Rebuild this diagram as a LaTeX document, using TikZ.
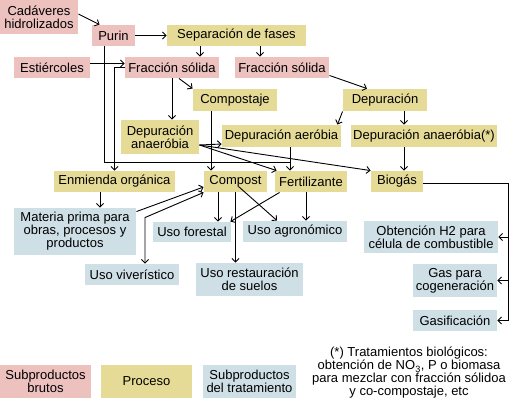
\documentclass[tikz,border=0pt]{standalone}
\usepackage{fontspec}
\setmainfont{Liberation Sans}
\usetikzlibrary{arrows.meta}
\definecolor{brutocol}{HTML}{ECC1BE}
\definecolor{procesocol}{HTML}{E5DB96}
\definecolor{subprodcol}{HTML}{CFDFE6}

\begin{document}
\begin{tikzpicture}[x=1pt, y=-1pt, font=\fontsize{13}{13}\selectfont, >={Straight Barb[length=3.5pt,width=7pt]}, line width=.9pt,
    sz/.style 2 args={minimum width=#1, minimum height=#2, inner sep=0pt, align=center},
    bruto/.style={fill=brutocol},
    proceso/.style={fill=procesocol},
    subprod/.style={fill=subprodcol}]
  \useasboundingbox (0,0) rectangle (510,400);
  % subproductos brutos
  \node[bruto,sz={78pt}{34pt}] (cad) at (39,17) {Cadáveres\\hidrolizados};
  \node[bruto,sz={43pt}{21pt}] (purin) at (113.5,35.5) {Purin};
  \node[bruto,sz={76pt}{21pt}] (estier) at (52,67.5) {Estiércoles};
  \node[bruto,sz={94pt}{21pt}] (frac1) at (172,67.5) {Fracción sólida};
  \node[bruto,sz={94pt}{21pt}] (frac2) at (282,67.5) {Fracción sólida};
  % procesos
  \node[proceso,sz={139pt}{21pt}] (sep) at (236.5,35.5) {Separación de fases};
  \node[proceso,sz={84pt}{22pt}] (compostaje) at (235,100) {Compostaje};
  \node[proceso,sz={84pt}{22pt}] (depur) at (385,100) {Depuración};
  \node[proceso,sz={78pt}{34pt}] (depana) at (160,137) {Depuración\\anaeróbia};
  \node[proceso,sz={119pt}{22pt}] (depaer) at (281.5,136) {Depuración aeróbia};
  \node[proceso,sz={146pt}{22pt}] (depanb) at (424,136) {Depuración anaeróbia(*)};
  \node[proceso,sz={121pt}{21pt}] (enm) at (114.5,181.5) {Enmienda orgánica};
  \node[proceso,sz={63pt}{21pt}] (compost) at (235.5,181.5) {Compost};
  \node[proceso,sz={72pt}{21pt}] (fert) at (311,181.5) {Fertilizante};
  \node[proceso,sz={52pt}{21pt}] (biogas) at (397,181.5) {Biogás};
  % subproductos del tratamiento
  \node[subprod,sz={122pt}{47pt}] (materia) at (75,231.5) {Materia prima para\\obras, procesos y\\productos};
  \node[subprod,sz={78pt}{20pt}] (forestal) at (192,232) {Uso forestal};
  \node[subprod,sz={104pt}{21pt}] (agron) at (295,231.5) {Uso agronómico};
  \node[subprod,sz={134pt}{32pt}] (h2) at (431,237) {Obtención H2 para\\célula de combustible};
  \node[subprod,sz={94pt}{21pt}] (viver) at (132,274.5) {Uso viverístico};
  \node[subprod,sz={107pt}{33pt}] (restaur) at (249.5,279.5) {Uso restauración\\de suelos};
  \node[subprod,sz={84pt}{33pt}] (gas) at (455,280.5) {Gas para\\cogeneración};
  \node[subprod,sz={84pt}{21pt}] (gasif) at (455,320.5) {Gasificación};
  % leyenda
  \node[bruto,sz={91pt}{33pt}] (legbruto) at (45.5,381.5) {Subproductos\\brutos};
  \node[proceso,sz={91pt}{33pt}] (legproceso) at (146.5,381.5) {Proceso};
  \node[subprod,sz={93pt}{33pt}] (legsubprod) at (249.5,381.5) {Subproductos\\del tratamiento};
  \node[align=center,inner sep=0pt] (nota) at (409,373) {(*) Tratamientos biológicos:\\obtención de NO\textsubscript{3}, P o biomasa\\para mezclar con fracción sólidoa\\y co-compostaje, etc};
  % conexiones
  \coordinate (jfert) at ([xshift=-21pt,yshift=8pt]fert.north);
  \coordinate (kviv) at ([xshift=13pt,yshift=46pt]viver.north);
  \coordinate (bus) at ([xshift=11pt]gasif.east);
  \draw[->] ([yshift=3pt]cad.east) -- ([xshift=8pt]purin.north west);
  \draw[->] (purin.east) -- (sep.west);
  \draw[->] ([xshift=-36.5pt]sep.south) -- ([xshift=-36.5pt]sep.south |- frac1.north);
  \draw[->] ([xshift=23.5pt]sep.south) -- ([xshift=23.5pt]sep.south |- frac2.north);
  \draw[->] ([yshift=4pt]estier.east) -- ([yshift=4pt]frac1.west);
  \draw[->] ([xshift=7pt]frac1.south) -- (compostaje.north west);
  \draw[->] (frac1.south) -- (frac1.south |- depana.north);
  \draw[->] (frac1.west) -| (enm.north);
  \draw[->] ([yshift=3pt]frac2.south east) -- ([xshift=-18pt]depur.north);
  \draw[->] (depur.south west) -- ([xshift=-4pt]depaer.north east);
  \draw[->] ([xshift=19pt]depur.south) -- ([xshift=19pt]depur.south |- depanb.north);
  \draw[->] ([xshift=-24pt]compostaje.south) -- ([xshift=-24pt]compostaje.south |- compost.north);
  \draw ([xshift=-9.5pt]purin.south) |- (jfert);
  \draw[->] ([xshift=8.5pt]depaer.south) -- ([xshift=-21pt]fert.north);
  \draw[->] ([xshift=-20pt]depanb.south) -- ([xshift=7pt]biogas.north);
  \draw[->] ([yshift=-8pt]depana.east) -- ([yshift=-8pt]depaer.west);
  \draw[->] ([yshift=-8pt]depana.east) -- ([xshift=2pt]fert.north west);
  \draw[->] ([yshift=-8pt]depana.east) -- (biogas.north west);
  \draw[->] ([xshift=-14.5pt]enm.south) -- ([xshift=-14.5pt]enm.south |- materia.north);
  \draw[->] ([yshift=-4pt]materia.north east) -- ([yshift=-5.5pt]compost.west);
  \draw[<->] (compost.south west) -- (kviv) -- ([xshift=13pt]viver.north);
  \draw[->] ([xshift=-17.5pt]compost.south) -- ([xshift=-17.5pt]compost.south |- forestal.north);
  \draw[->] (compost.south) -- (compost.south |- restaur.north);
  \draw[->] ([xshift=3pt,yshift=-5pt]compost.center) -- ([xshift=-18pt]agron.north);
  \draw[->] ([xshift=5pt]fert.south west) -- ([xshift=-1pt]forestal.north east);
  \draw[->] ([xshift=-5pt]fert.south) -- ([xshift=-5pt]fert.south |- agron.north);
  \draw[->] ([yshift=-1.5pt]biogas.east) -| (bus) -- (gasif.east);
  \draw[->] (bus |- h2.east) -- (h2.east);
  \draw[->] (bus |- gas.east) -- (gas.east);
\end{tikzpicture}
\end{document}
